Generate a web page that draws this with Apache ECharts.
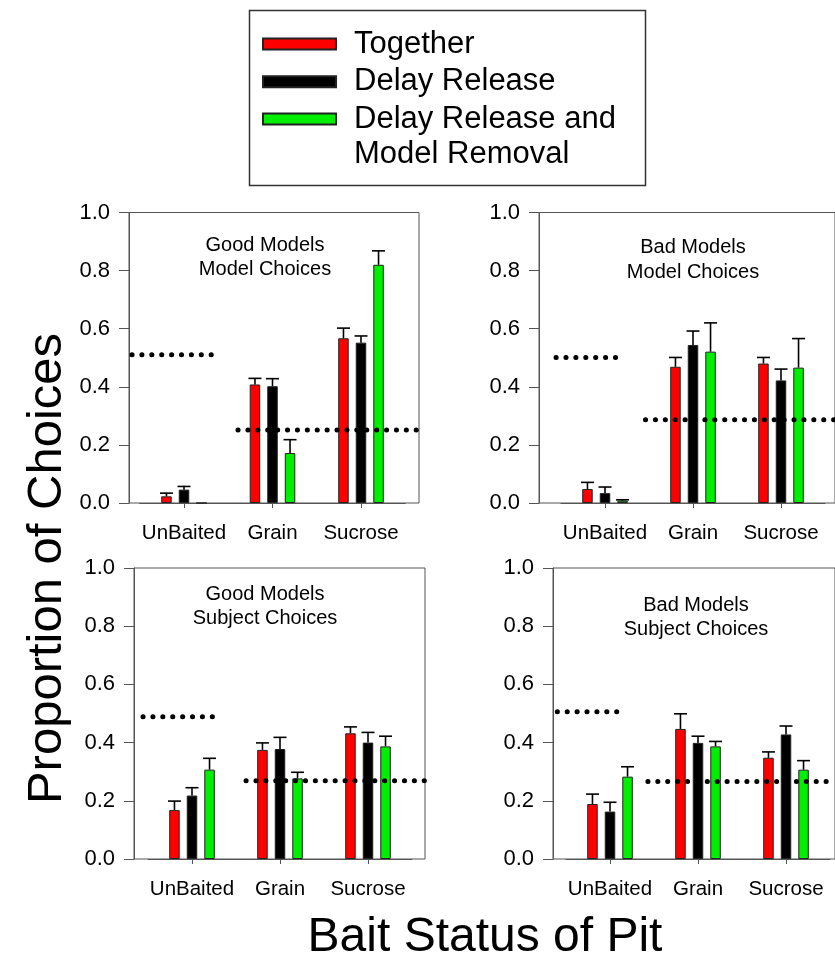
<!DOCTYPE html>
<html><head><meta charset="utf-8">
<script src="https://cdn.jsdelivr.net/npm/echarts@6/dist/echarts.min.js"></script>
<style>html,body{margin:0;padding:0;background:#fff}#chart{width:835px;height:958px}</style>
</head><body><div id="chart"></div>
<script>
// ---------- data ----------
const categories = ['UnBaited', 'Grain', 'Sucrose'];
const seriesNames = ['Together', 'Delay Release', 'Delay Release and Model Removal'];
const seriesColors = ['#ff0000', '#000000', '#00ee00'];
const yTickValues = [0, 0.2, 0.4, 0.6, 0.8, 1.0];
const panelTitles = ['Good Models\nModel Choices', 'Bad Models\nModel Choices', 'Good Models\nSubject Choices', 'Bad Models\nSubject Choices'];

// Good Models - Model Choices
const goodModelTogether = [0.023, 0.408, 0.567];
const goodModelDelay    = [0.046, 0.402, 0.552];
const goodModelRemoval  = [0.000, 0.172, 0.820];
const goodModelTogetherErr = [0.011, 0.021, 0.035];
const goodModelDelayErr    = [0.011, 0.026, 0.023];
const goodModelRemovalErr  = [0.000, 0.046, 0.048];
const goodModelChance = [0.510, 0.251];

// Bad Models - Model Choices
const badModelTogether = [0.048, 0.469, 0.480];
const badModelDelay    = [0.034, 0.544, 0.422];
const badModelRemoval  = [0.008, 0.521, 0.466];
const badModelTogetherErr = [0.023, 0.032, 0.021];
const badModelDelayErr    = [0.021, 0.048, 0.039];
const badModelRemovalErr  = [0.003, 0.099, 0.100];
const badModelChance = [0.501, 0.287];

// Good Models - Subject Choices
const goodSubjectTogether = [0.168, 0.375, 0.432];
const goodSubjectDelay    = [0.218, 0.378, 0.400];
const goodSubjectRemoval  = [0.307, 0.277, 0.387];
const goodSubjectTogetherErr = [0.031, 0.024, 0.022];
const goodSubjectDelayErr    = [0.027, 0.040, 0.035];
const goodSubjectRemovalErr  = [0.039, 0.021, 0.035];
const goodSubjectChance = [0.489, 0.269];

// Bad Models - Subject Choices
const badSubjectTogether = [0.189, 0.447, 0.348];
const badSubjectDelay    = [0.163, 0.399, 0.428];
const badSubjectRemoval  = [0.283, 0.387, 0.307];
const badSubjectTogetherErr = [0.034, 0.052, 0.020];
const badSubjectDelayErr    = [0.032, 0.023, 0.029];
const badSubjectRemovalErr  = [0.034, 0.017, 0.031];
const badSubjectChance = [0.506, 0.266];

// extent of the chance lines, in category units (category i centred at i)
const chanceSpanUnbaited = [[-0.588, 0.407], [-0.534, 0.307], [-0.557, 0.284], [-0.591, 0.318]];
const chanceSpanBaitedStart = [0.61, 0.599, 0.614, 0.614];

// ---------- layout ----------
const FONT = 'Liberation Sans, Arial, Helvetica, sans-serif';
const BAR_W = 10.5, BAR_GAP = 0.67, CAP = 13;
const layout = [
  {frame: {left: 129, top: 212.5, width: 290, height: 290.5}, bars: {left: 139.75, width: 265.5}, title: [265, 233]},
  {frame: {left: 539, top: 212.5, width: 330, height: 290.5}, bars: {left: 561, width: 264}, title: [693, 235.5]},
  {frame: {left: 134, top: 568, width: 291, height: 291}, bars: {left: 148, width: 264}, title: [265, 582]},
  {frame: {left: 553, top: 568, width: 330, height: 291}, bars: {left: 566, width: 264}, title: [696, 593]}
];
const panelMeans = [
  [goodModelTogether, goodModelDelay, goodModelRemoval],
  [badModelTogether, badModelDelay, badModelRemoval],
  [goodSubjectTogether, goodSubjectDelay, goodSubjectRemoval],
  [badSubjectTogether, badSubjectDelay, badSubjectRemoval]
];
const panelErrs = [
  [goodModelTogetherErr, goodModelDelayErr, goodModelRemovalErr],
  [badModelTogetherErr, badModelDelayErr, badModelRemovalErr],
  [goodSubjectTogetherErr, goodSubjectDelayErr, goodSubjectRemovalErr],
  [badSubjectTogetherErr, badSubjectDelayErr, badSubjectRemovalErr]
];
const panelChance = [goodModelChance, badModelChance, goodSubjectChance, badSubjectChance];

function errRender(k) {
  return function (params, api) {
    const err = api.value(2);
    if (!(err > 0)) return;
    const ci = api.value(0), m = api.value(1);
    const p0 = api.coord([ci, m]);
    const p1 = api.coord([ci, m + err]);
    const x = p0[0] + (k - 1) * BAR_W * (1 + BAR_GAP);
    const st = {stroke: '#000', lineWidth: 1.6};
    return {type: 'group', children: [
      {type: 'line', shape: {x1: x, y1: p0[1], x2: x, y2: p1[1]}, style: st},
      {type: 'line', shape: {x1: x - CAP / 2, y1: p1[1], x2: x + CAP / 2, y2: p1[1]}, style: st}
    ]};
  };
}

const grid = [], xAxis = [], yAxis = [], series = [], title = [];
layout.forEach((L, i) => {
  const band = L.bars.width / 3;
  const xmin = (L.frame.left - L.bars.left) / band - 0.5;
  const xmax = (L.frame.left + L.frame.width - L.bars.left) / band - 0.5;
  grid[i] = {left: L.frame.left, top: L.frame.top, width: L.frame.width, height: L.frame.height,
    show: true, borderColor: '#555', borderWidth: 1, backgroundColor: 'transparent'};
  grid[4 + i] = {left: L.bars.left, top: L.frame.top, width: L.bars.width, height: L.frame.height};
  xAxis[i] = {type: 'value', gridIndex: i, min: xmin, max: xmax, show: true,
    axisLine: {show: false, onZero: false}, axisTick: {show: false}, axisLabel: {show: false}, splitLine: {show: false}};
  xAxis[4 + i] = {type: 'category', gridIndex: 4 + i, data: categories,
    axisLine: {show: true, onZero: false, lineStyle: {color: '#555', width: 1}},
    axisTick: {show: true, alignWithLabel: true, length: 5, lineStyle: {color: '#555'}},
    axisLabel: {color: '#000', fontSize: 20.5, fontFamily: FONT, margin: 20, interval: 0},
    splitLine: {show: false}};
  yAxis[i] = {type: 'value', gridIndex: i, min: 0, max: 1, interval: 0.2,
    axisLine: {show: true, onZero: false, lineStyle: {color: '#555', width: 1}},
    axisTick: {show: true, length: 10, lineStyle: {color: '#555'}},
    axisLabel: {color: '#000', fontSize: 22, fontFamily: FONT, margin: 19,
      formatter: v => yTickValues.some(t => Math.abs(t - v) < 1e-9) ? v.toFixed(1) : ''},
    splitLine: {show: false}};
  yAxis[4 + i] = {type: 'value', gridIndex: 4 + i, min: 0, max: 1, show: false};
  for (let k = 0; k < 3; k++) {
    series.push({type: 'bar', name: seriesNames[k], xAxisIndex: 4 + i, yAxisIndex: 4 + i,
      data: panelMeans[i][k], barWidth: BAR_W, barGap: (BAR_GAP * 100) + '%',
      itemStyle: {color: seriesColors[k], borderColor: '#222', borderWidth: 1}, z: 2, silent: true});
  }
  for (let k = 0; k < 3; k++) {
    series.push({type: 'custom', name: seriesNames[k], xAxisIndex: 4 + i, yAxisIndex: 4 + i,
      renderItem: errRender(k), encode: {x: 0, y: 1},
      data: categories.map((c, j) => [j, panelMeans[i][k][j], panelErrs[i][k][j]]), z: 3, silent: true});
  }
  const dots = {color: '#000', width: 5, type: [0.1, 9.8], cap: 'round'};
  series.push({type: 'line', name: 'chance-unbaited', xAxisIndex: i, yAxisIndex: i, symbol: 'none', silent: true,
    data: [[chanceSpanUnbaited[i][0], panelChance[i][0]], [chanceSpanUnbaited[i][1], panelChance[i][0]]],
    lineStyle: dots, z: 5});
  series.push({type: 'line', name: 'chance-baited', xAxisIndex: i, yAxisIndex: i, symbol: 'none', silent: true,
    data: [[chanceSpanBaitedStart[i], panelChance[i][1]], [xmax, panelChance[i][1]]],
    lineStyle: dots, z: 5});
  title.push({text: panelTitles[i], left: L.title[0], top: L.title[1], textAlign: 'center', padding: 0,
    textStyle: {fontSize: 20, fontWeight: 'normal', color: '#000', fontFamily: FONT, lineHeight: 24.5}});
});

const LH1 = 37.7, LH2 = 35.5;
const option = {
  animation: false,
  backgroundColor: '#fff',
  title: title,
  grid: grid, xAxis: xAxis, yAxis: yAxis, series: series,
  legend: [
    {data: [seriesNames[0], seriesNames[1]], orient: 'vertical', left: 262, top: 44 - LH1 / 2, padding: 0,
      itemWidth: 73, itemHeight: 11, itemGap: 0, icon: 'rect', selectedMode: false,
      textStyle: {fontSize: 31, fontFamily: FONT, color: '#000', lineHeight: LH1, padding: [0, 0, 0, 13]}},
    {data: [seriesNames[2]], orient: 'vertical', left: 262, top: 119 - 1.5 * LH2, padding: 0,
      itemWidth: 73, itemHeight: 11, itemGap: 0, icon: 'rect', selectedMode: false,
      formatter: () => '\nDelay Release and\nModel Removal',
      textStyle: {fontSize: 31, fontFamily: FONT, color: '#000', lineHeight: LH2, padding: [0, 0, 0, 13]}}
  ],
  graphic: [
    {type: 'rect', shape: {x: 249.5, y: 10.5, width: 396, height: 175}, style: {fill: 'none', stroke: '#333', lineWidth: 1.5}, silent: true},
    {type: 'text', x: 47, y: 568.5, rotation: Math.PI / 2, silent: true,
      style: {text: 'Proportion of Choices', fontSize: 49, fontFamily: FONT, fill: '#000', textAlign: 'center', textVerticalAlign: 'middle'}},
    {type: 'text', x: 485, y: 938, silent: true,
      style: {text: 'Bait Status of Pit', fontSize: 48, fontFamily: FONT, fill: '#000', textAlign: 'center', textVerticalAlign: 'middle'}}
  ]
};
const chart = echarts.init(document.getElementById('chart'), null, {renderer: 'canvas'});
chart.setOption(option);
</script></body></html>
